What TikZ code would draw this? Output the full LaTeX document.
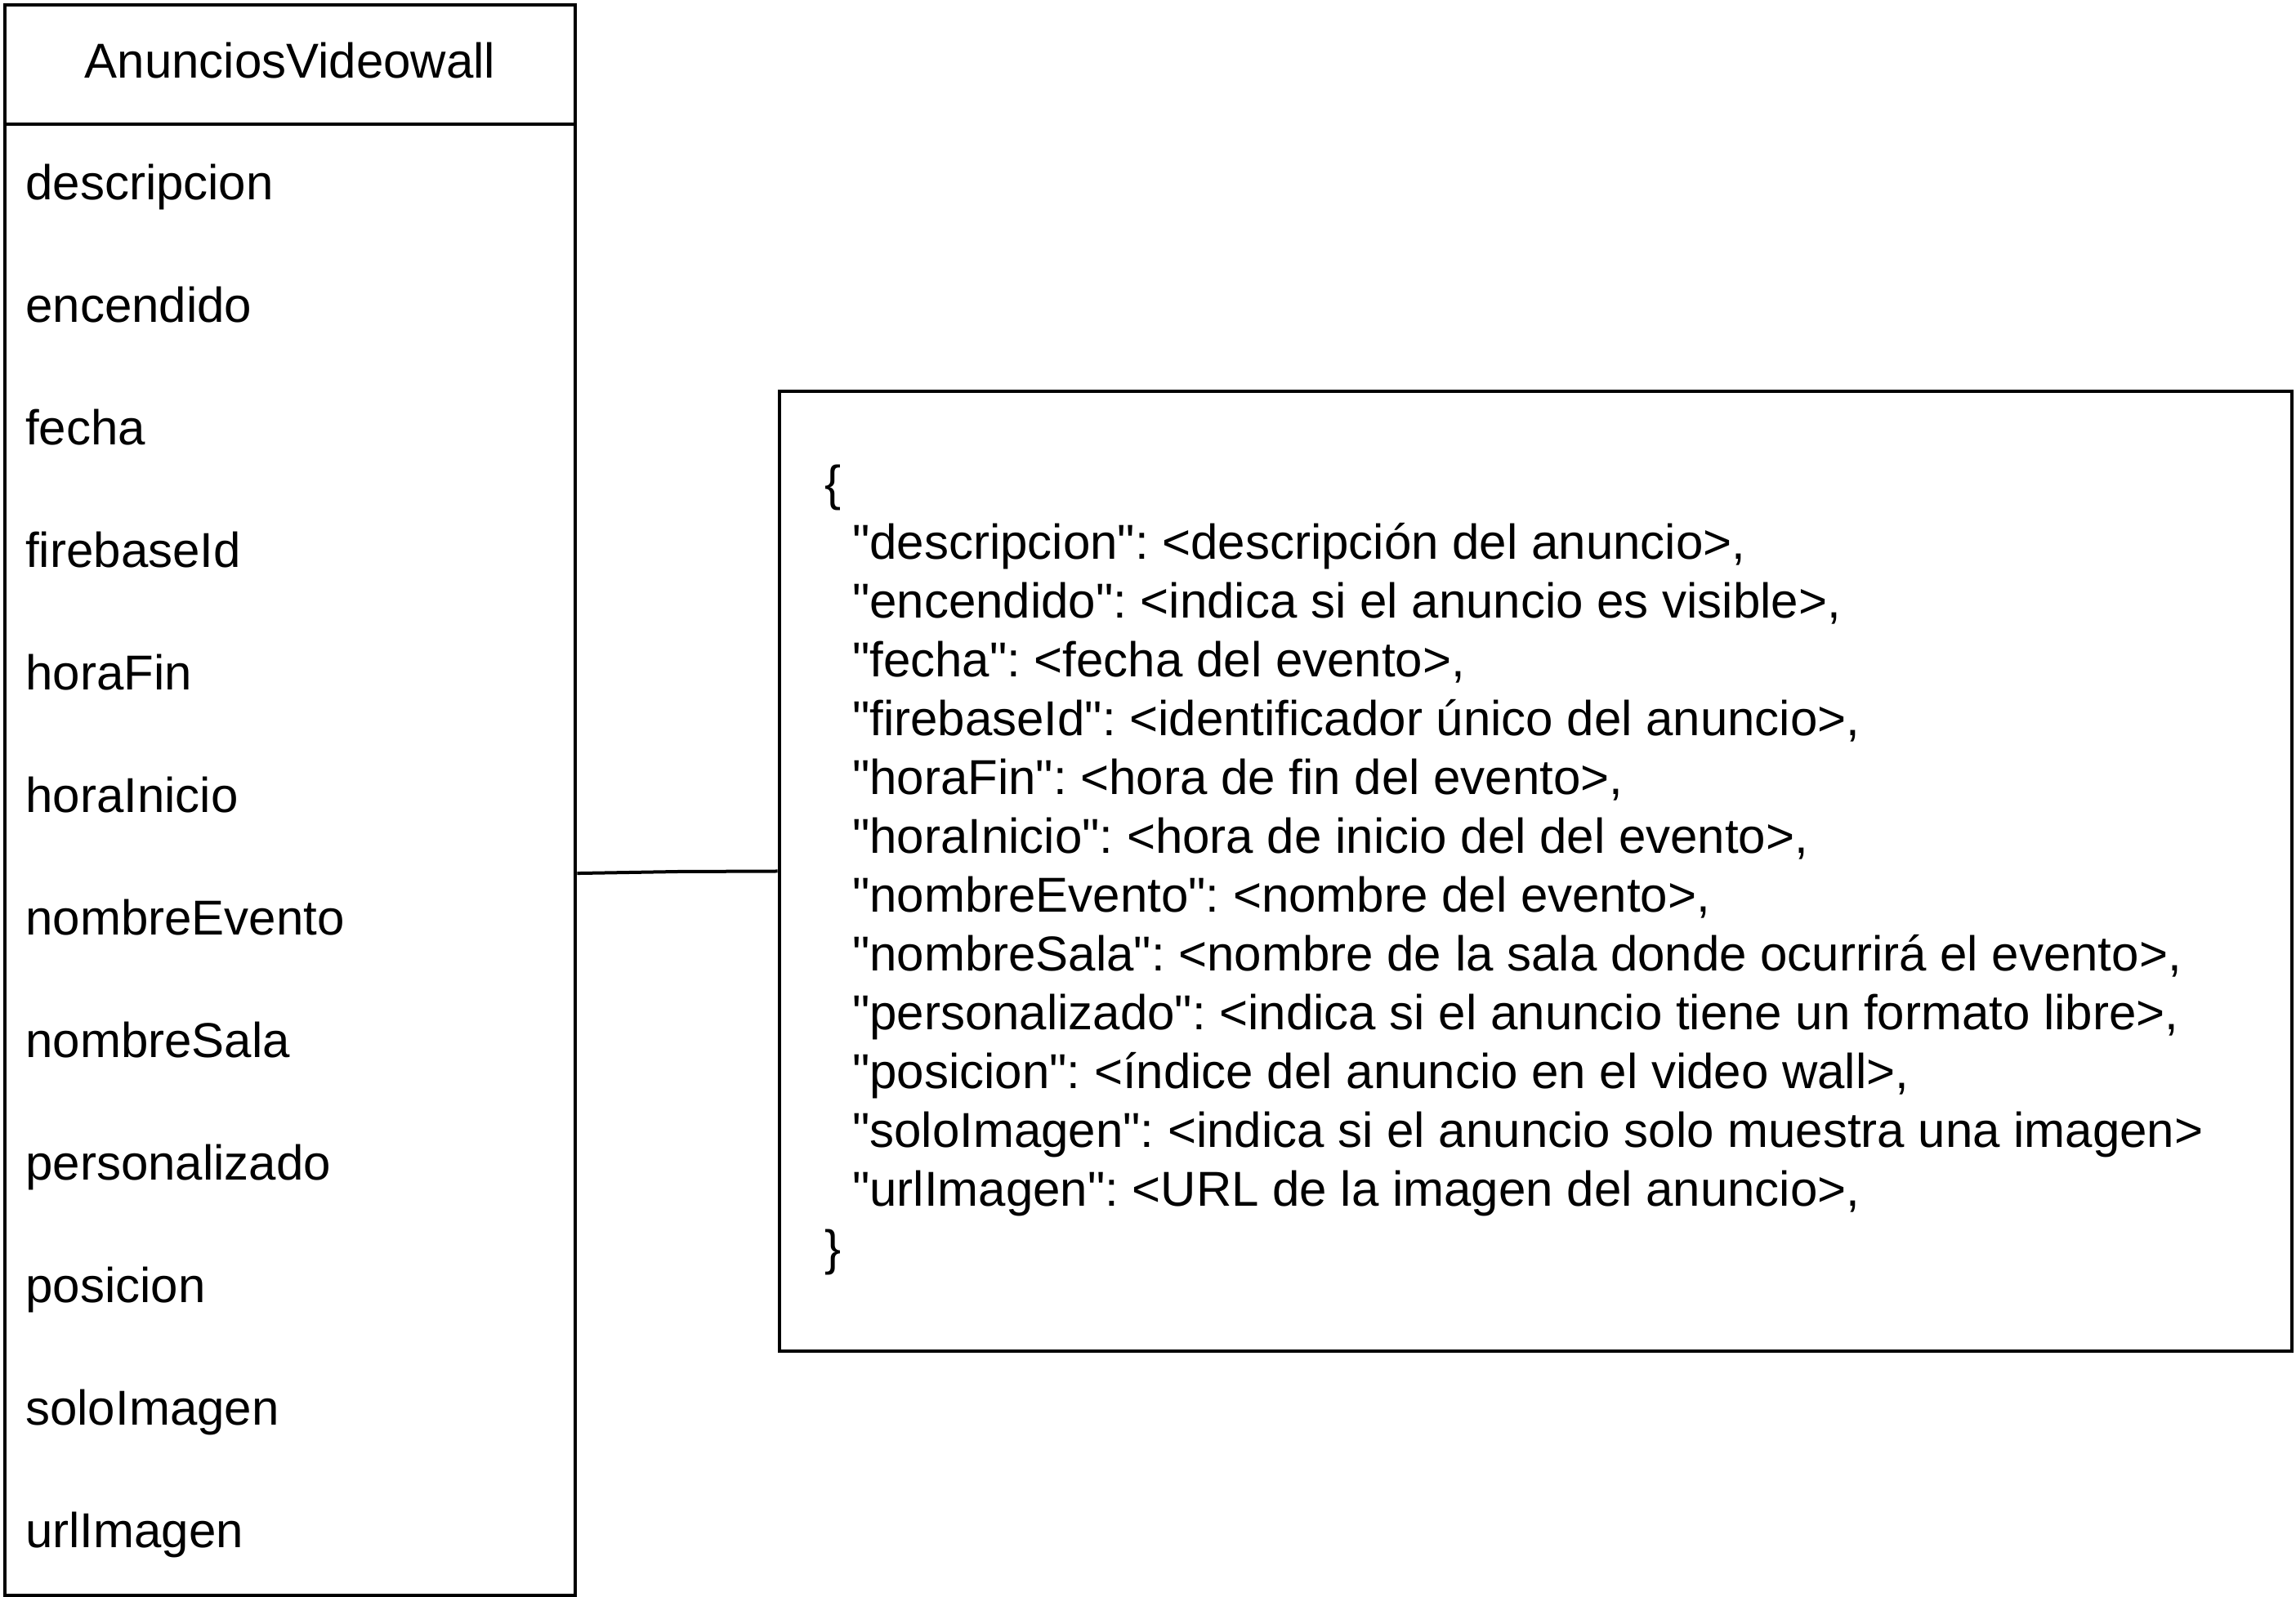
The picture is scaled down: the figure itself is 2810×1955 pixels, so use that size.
\documentclass[tikz,border=0pt]{standalone}
\usepackage{fontspec}
\setmainfont{Liberation Sans}[Ligatures=TeXOff]
\frenchspacing
\usetikzlibrary{positioning, calc}
\tikzset{
    box/.style={draw, line width=1pt, inner sep=0pt},
    link/.style={draw, line width=1pt},
    txt/.style={inner sep=0pt, font=\fontsize{15}{18}\selectfont},
    attr/.style={txt, anchor=base west}
}
\begin{document}
\begin{tikzpicture}[x=0.25pt, y=-0.25pt]
    \useasboundingbox (0,0) rectangle (2810,1955);
    \def \row {150}
    % class box
    \node[box, anchor=north west, minimum width=174.7pt, minimum height=486.85pt] (cls) at (3.6,3.6) {};
    \coordinate (hdr) at (0,152);
    \draw[link] (cls.west |- hdr) -- (cls.east |- hdr);
    \node[txt, anchor=base] (title) at ($(cls.north)+(0,92.4)$) {AnunciosVideowall};
    \foreach \a [count=\i] in {descripcion, encendido, fecha, firebaseId, horaFin, horaInicio, nombreEvento, nombreSala, personalizado, posicion, soloImagen, urlImagen}{
    \node[attr] (attr\i) at (30.5, {227+\row*(\i-1)+18}) {\a};}
    % json box
    \node[box, anchor=north west, minimum width=462.75pt, minimum height=293.9pt] (json) at (951.6,476.7) {};
    \node[txt, anchor=west, align=left] (jsontext) at (1009,1065) {\{\\
    ~~"descripcion": <descripción del anuncio>,\\
    ~~"encendido": <indica si el anuncio es visible>,\\
    ~~"fecha": <fecha del evento>,\\
    ~~"firebaseId": <identificador único del anuncio>,\\
    ~~"horaFin": <hora de fin del evento>,\\
    ~~"horaInicio": <hora de inicio del del evento>,\\
    ~~"nombreEvento": <nombre del evento>,\\
    ~~"nombreSala": <nombre de la sala donde ocurrirá el evento>,\\
    ~~"personalizado": <indica si el anuncio tiene un formato libre>,\\
    ~~"posicion": <índice del anuncio en el video wall>,\\
    ~~"soloImagen": <indica si el anuncio solo muestra una imagen>\\
    ~~"urlImagen": <URL de la imagen del anuncio>,\\
    \}};
    % connector
    \coordinate (bend) at (830,1067);
    \draw[link] ($(cls.north east)!0.546!(cls.south east)$) -- (bend) -- (json.west);
\end{tikzpicture}
\end{document}
